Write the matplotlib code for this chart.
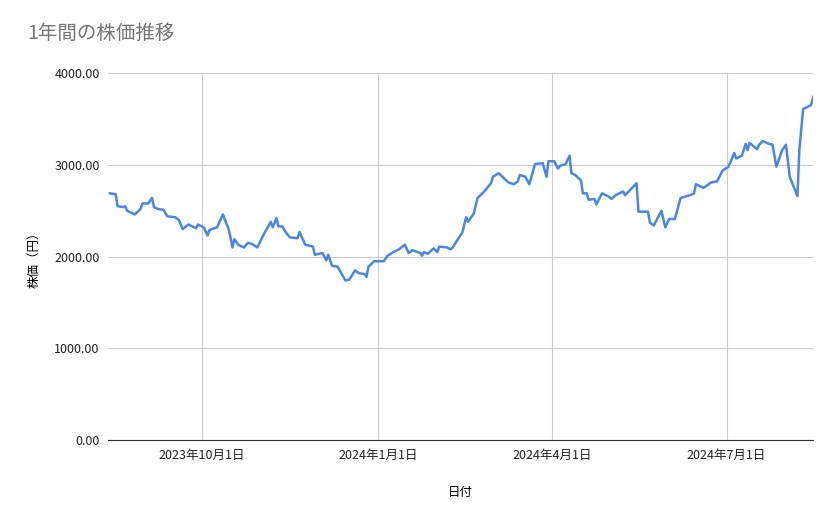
import matplotlib
matplotlib.use("Agg")
import matplotlib.pyplot as plt
import pandas as pd

plt.rcParams['font.family'] = ['Noto Sans CJK JP', 'DejaVu Sans']

start_date = "2023-08-13"
days_since_start = [1,4,5,8,9,10,14,17,18,21,23,24,26,29,31,35,37,39,42,44,46,47,50,52,53,57,60,63,64,65,66,68,71,73,75,78,81,85,86,88,89,91,93,95,99,100,103,107,108,112,114,115,117,120,121,124,126,129,131,134,135,136,139,144,146,149,152,155,157,159,163,164,165,167,170,172,173,177,179,180,183,185,187,188,191,193,196,200,201,204,206,209,212,214,215,218,220,223,227,229,230,233,235,236,239,241,242,244,247,248,250,251,254,255,258,261,263,265,269,270,276,277,282,283,285,289,291,293,296,299,304,306,307,311,315,318,321,324,327,328,331,333,334,335,339,340,342,345,347,349,352,354,356,360,361,363,367,369]
prices = [2690,2680,2550,2540,2550,2500,2460,2520,2580,2580,2640,2540,2520,2510,2440,2430,2400,2300,2350,2330,2310,2350,2320,2230,2290,2320,2460,2300,2210,2100,2190,2130,2100,2150,2140,2100,2230,2380,2320,2420,2330,2330,2260,2210,2200,2270,2130,2110,2020,2040,1960,2020,1900,1890,1850,1740,1750,1850,1820,1810,1780,1890,1950,1950,2010,2050,2080,2130,2040,2070,2040,2010,2050,2030,2090,2050,2110,2100,2080,2100,2200,2260,2430,2380,2470,2640,2700,2800,2870,2910,2870,2810,2790,2820,2890,2870,2790,3010,3020,2870,3040,3040,2960,2990,3010,3100,2910,2890,2830,2690,2690,2620,2630,2570,2690,2660,2630,2670,2710,2670,2800,2490,2490,2370,2340,2500,2320,2410,2410,2640,2670,2690,2790,2750,2810,2820,2940,2980,3130,3070,3100,3230,3160,3240,3170,3220,3260,3230,3220,2980,3160,3220,2870,2660,3160,3610,3650,3780]
x_range = ["2023-08-13", "2024-08-15"]
tick_dates = ["2023-10-01", "2024-01-01", "2024-04-01", "2024-07-01"]
tick_labels = ["2023年10月1日", "2024年1月1日", "2024年4月1日", "2024年7月1日"]
y_ticks = [0, 1000, 2000, 3000, 4000]

dates = pd.to_datetime(start_date) + pd.to_timedelta(days_since_start, unit="D")

fig = plt.figure(figsize=(8.39, 5.19), dpi=100)
ax = fig.add_axes([0.1287, 0.152, 0.840, 0.707])
ax.plot(dates, prices, color="#4a86e8", lw=1.8)
ax.set_xlim(pd.to_datetime(x_range[0]), pd.to_datetime(x_range[1]))
ax.set_ylim(0, 4000)
ax.set_xticks(pd.to_datetime(tick_dates))
ax.set_xticklabels(tick_labels)
ax.set_yticks(y_ticks)
ax.set_yticklabels([f"{v:.2f}" for v in y_ticks])
ax.grid(True, color="#cccccc", lw=0.8)
ax.set_axisbelow(True)
for s in ["top", "right", "left"]:
    ax.spines[s].set_visible(False)
ax.spines["bottom"].set_color("#333333")
ax.tick_params(length=0, labelsize=9, colors="#222222", pad=6)
ax.set_xlabel("日付", fontsize=9, labelpad=18)
ax.set_ylabel("株価（円）", fontsize=9, labelpad=10)
fig.text(0.033, 0.925, "1年間の株価推移", fontsize=14, color="#757575")
fig.savefig("out.png", dpi=100)
